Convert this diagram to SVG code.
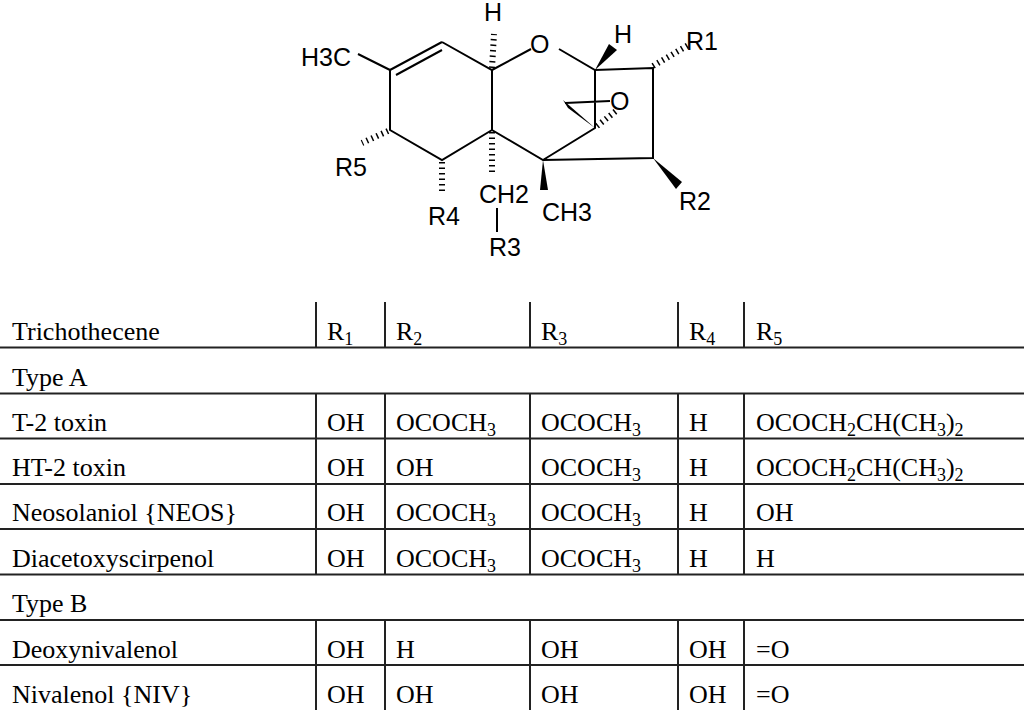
<svg xmlns="http://www.w3.org/2000/svg" width="1024" height="710" viewBox="0 0 1024 710">
<style>
.b{stroke:#000;stroke-width:2;fill:none}
.h{stroke:#000;stroke-width:6;stroke-dasharray:1.5 4;fill:none}
.a{font-family:"Liberation Sans",Arial,sans-serif;font-size:25px}
.t{font-family:"Liberation Serif","Times New Roman",serif;font-size:26px}
.g{stroke:#222;stroke-width:2}
.s{font-size:18px}
</style>
<rect width="1024" height="710" fill="#fff"/>
<g id="structure">
<path class="b" d="M358,54 L390,70 M390,70 L442,42 M396,75 L442,50 M442,42 L492,70 L531,49 M559,49 L595,70 L653,68 L653,158 L543,160 L492,130 L492,70 M492,130 L442,160 L390,130 L390,70 M595,70 L595,128 L543,160 M565,103 L610,101 M497,208 L497,232"/>
<polygon points="595,128 563,100 568,108" fill="#000"/>
<polygon points="595,70 609,44 617,50" fill="#000"/>
<polygon points="543,160 540,190 548,190" fill="#000"/>
<polygon points="653,158 676,189 682,182" fill="#000"/>
<path class="h" d="M492,68 L494,34"/>
<path class="h" d="M653,66 L690,44"/>
<path class="h" d="M492,132 L492,176"/>
<path class="h" d="M442,162 L442,192"/>
<path class="h" d="M388,131 L362,143"/>
<path class="h" d="M597,126 L616,111"/>
<text class="a" x="301" y="66">H3C</text>
<text class="a" x="484" y="21">H</text>
<text class="a" x="530" y="53">O</text>
<text class="a" x="614" y="43">H</text>
<text class="a" x="686" y="50">R1</text>
<text class="a" x="610" y="110">O</text>
<text class="a" x="335" y="176">R5</text>
<text class="a" x="428" y="225">R4</text>
<text class="a" x="479" y="203">CH2</text>
<text class="a" x="542" y="221">CH3</text>
<text class="a" x="489" y="256">R3</text>
<text class="a" x="679" y="210">R2</text>
</g>
<g id="table">
<path class="g" d="M0,347.5H1024M0,393.5H1024M0,438.5H1024M0,484H1024M0,529H1024M0,574.5H1024M0,620H1024M0,665H1024"/>
<path class="g" stroke-width="1.5" d="M316,302V347M385,302V347M530,302V347M678,302V347M744,302V347M316,393V574M385,393V574M530,393V574M678,393V574M744,393V574M316,620V710M385,620V710M530,620V710M678,620V710M744,620V710"/>
<g class="t">
<text x="12" y="340">Trichothecene</text><text x="327" y="340">R<tspan class="s" dy="5">1</tspan></text><text x="396" y="340">R<tspan class="s" dy="5">2</tspan></text><text x="541" y="340">R<tspan class="s" dy="5">3</tspan></text><text x="689" y="340">R<tspan class="s" dy="5">4</tspan></text><text x="756" y="340">R<tspan class="s" dy="5">5</tspan></text>
<text x="12" y="386">Type A</text>
<text x="12" y="431">T-2 toxin</text><text x="327" y="431">OH</text><text x="396" y="431">OCOCH<tspan class="s" dy="5">3</tspan></text><text x="541" y="431">OCOCH<tspan class="s" dy="5">3</tspan></text><text x="689" y="431">H</text><text x="756" y="431">OCOCH<tspan class="s" dy="5">2</tspan><tspan dy="-5">CH(CH</tspan><tspan class="s" dy="5">3</tspan><tspan dy="-5">)</tspan><tspan class="s" dy="5">2</tspan></text>
<text x="12" y="476">HT-2 toxin</text><text x="327" y="476">OH</text><text x="396" y="476">OH</text><text x="541" y="476">OCOCH<tspan class="s" dy="5">3</tspan></text><text x="689" y="476">H</text><text x="756" y="476">OCOCH<tspan class="s" dy="5">2</tspan><tspan dy="-5">CH(CH</tspan><tspan class="s" dy="5">3</tspan><tspan dy="-5">)</tspan><tspan class="s" dy="5">2</tspan></text>
<text x="12" y="521">Neosolaniol {NEOS}</text><text x="327" y="521">OH</text><text x="396" y="521">OCOCH<tspan class="s" dy="5">3</tspan></text><text x="541" y="521">OCOCH<tspan class="s" dy="5">3</tspan></text><text x="689" y="521">H</text><text x="756" y="521">OH</text>
<text x="12" y="567">Diacetoxyscirpenol</text><text x="327" y="567">OH</text><text x="396" y="567">OCOCH<tspan class="s" dy="5">3</tspan></text><text x="541" y="567">OCOCH<tspan class="s" dy="5">3</tspan></text><text x="689" y="567">H</text><text x="756" y="567">H</text>
<text x="12" y="612">Type B</text>
<text x="12" y="658">Deoxynivalenol</text><text x="327" y="658">OH</text><text x="396" y="658">H</text><text x="541" y="658">OH</text><text x="689" y="658">OH</text><text x="756" y="658">=O</text>
<text x="12" y="703">Nivalenol {NIV}</text><text x="327" y="703">OH</text><text x="396" y="703">OH</text><text x="541" y="703">OH</text><text x="689" y="703">OH</text><text x="756" y="703">=O</text>
</g>
</g>
</svg>
